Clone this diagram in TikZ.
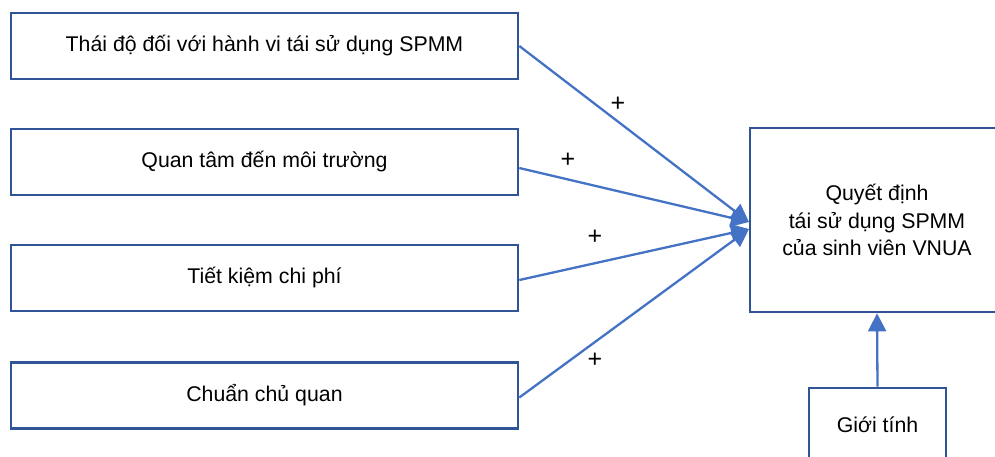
\documentclass[tikz,border=0pt]{standalone}
\usepackage{fontspec}
\setmainfont{Liberation Sans}
\usetikzlibrary{arrows.meta,calc}
\definecolor{boxblue}{HTML}{2F5597}
\definecolor{arrblue}{HTML}{4472C4}
\begin{document}
\begin{tikzpicture}[x=1pt,y=-1pt,
  box/.style={draw=boxblue,line width=2.6pt,fill=white,inner sep=0pt,align=center,
    font=\fontsize{21.3}{27.5}\selectfont},
  conn/.style={draw=arrblue,line width=2.3pt,-{Triangle[length=18pt,width=18pt]}},
  plus/.style={inner sep=0pt,font=\fontsize{25}{25}\selectfont}]
\useasboundingbox (0,0) rectangle (995,456);
\node[box,minimum width=507pt,minimum height=66pt] (b1) at (264.5,46) {Thái độ đối với hành vi tái sử dụng SPMM};
\node[box,minimum width=507pt,minimum height=66pt] (b2) at (264.5,162) {Quan tâm đến môi trường};
\node[box,minimum width=507pt,minimum height=66pt] (b3) at (264.5,278) {Tiết kiệm chi phí};
\node[box,minimum width=507pt,minimum height=66pt] (b4) at (264.5,395.5) {Chuẩn chủ quan};
\node[box,minimum width=254pt,minimum height=184pt] (R) at (877,220) {Quyết định\\tái sử dụng SPMM\\của sinh viên VNUA};
\node[box,minimum width=137pt,minimum height=84pt] (G) at (877.5,430) {\raisebox{11pt}{Giới tính}};
\coordinate (t1) at (749,222);
\coordinate (t2) at (749,229);
\draw[conn] (b1.east) -- (t1);
\draw[conn] ([yshift=-6pt]b2.east) -- (t1);
\draw[conn] ([yshift=-2pt]b3.east) -- (t2);
\draw[conn] ([yshift=-2pt]b4.east) -- (t2);
\draw[conn] (G.north) -- (R.south);
\node[plus] (p1) at (618,104) {+};
\node[plus] (p2) at (568,160) {+};
\node[plus] (p3) at (595,237) {+};
\node[plus] (p4) at (595,360) {+};
\end{tikzpicture}
\end{document}
